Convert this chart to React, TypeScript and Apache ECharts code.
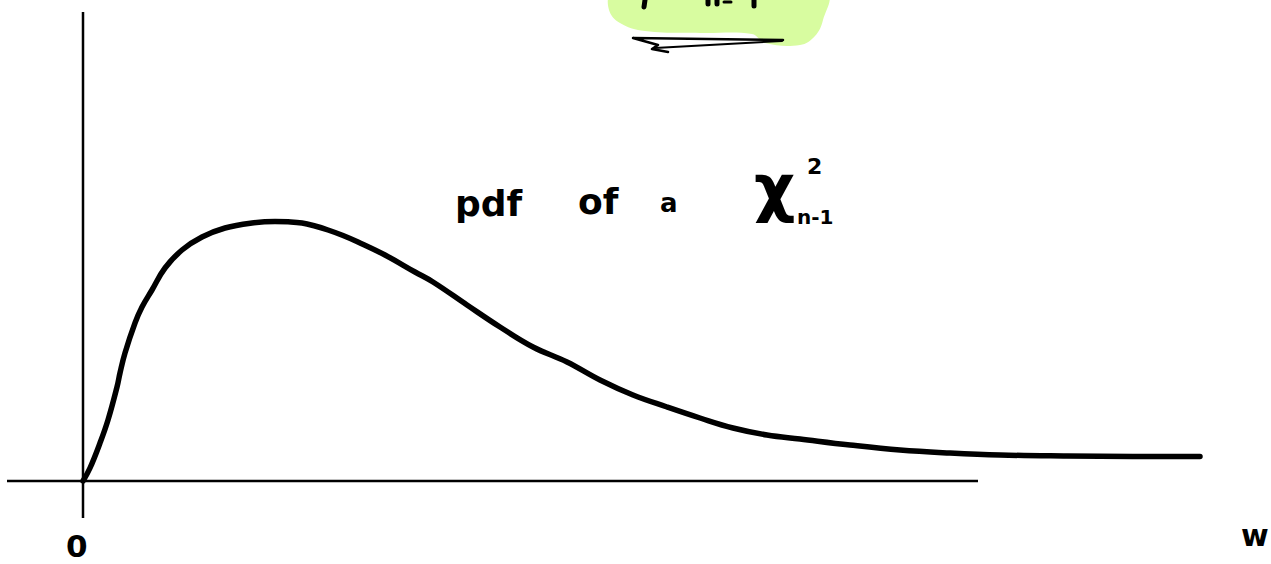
import React, { useEffect, useRef } from "react";
import * as echarts from "echarts";

// w values (horizontal position, arbitrary units) and pdf heights of the sketched chi-square curve
const curveW = [0, 0.07, 0.17, 0.25, 0.34, 0.37, 0.42, 0.52, 0.59, 0.69, 0.82, 0.99, 1.19, 1.42, 1.69, 1.92, 2.05, 2.19, 2.32, 2.45, 2.6, 2.75, 3.02, 3.32, 3.5, 3.84, 4.17, 4.5, 4.84, 5.17, 5.5, 5.84, 6.17, 6.5, 6.84, 7.17, 7.67, 8.17, 8.67, 9.17, 9.84, 10.5, 11.17];
const curvePdf = [0, 0.13, 0.38, 0.61, 0.94, 1.08, 1.28, 1.58, 1.74, 1.91, 2.13, 2.31, 2.44, 2.53, 2.58, 2.595, 2.592, 2.58, 2.55, 2.51, 2.455, 2.39, 2.26, 2.09, 1.99, 1.76, 1.54, 1.34, 1.19, 1.01, 0.86, 0.74, 0.63, 0.53, 0.46, 0.42, 0.36, 0.31, 0.28, 0.26, 0.25, 0.245, 0.245];

// hand-drawn axes extents
const horizAxisW = [-0.76, 8.95];
const vertAxisPdf = [-0.37, 4.69];

// labels
const originLabel = "0";
const axisLabel = "w";
const titleWords = ["pdf", "of", "a", "χ"];
const chiSup = "2";
const chiSub = "n-1";

const X_MIN = -0.83;
const X_MAX = 11.88;
const Y_MIN = -0.83;
const Y_MAX = 4.81;

export default function App() {
  const ref = useRef<HTMLDivElement>(null);
  useEffect(() => {
    if (!ref.current) return;
    const chart = echarts.init(ref.current, null, { renderer: "svg" });
    const font = "'DejaVu Sans', sans-serif";
    const txt = (text: string, x: number, y: number, size: number, extra: any = {}) => ({
      type: "text",
      x,
      y,
      z: 10,
      style: {
        text,
        fill: "#000",
        font: `bold ${size}px ${font}`,
        ...extra,
      },
    });
    chart.setOption({
      animation: false,
      backgroundColor: "#ffffff",
      grid: { left: 0, right: 0, top: 0, bottom: 0 },
      xAxis: { type: "value", min: X_MIN, max: X_MAX, show: false },
      yAxis: { type: "value", min: Y_MIN, max: Y_MAX, show: false },
      series: [
        {
          type: "line",
          data: horizAxisW.map((w) => [w, 0]),
          showSymbol: false,
          lineStyle: { color: "#000", width: 2.5 },
          z: 2,
        },
        {
          type: "line",
          data: vertAxisPdf.map((p) => [0, p]),
          showSymbol: false,
          lineStyle: { color: "#000", width: 2.5 },
          z: 2,
        },
        {
          type: "line",
          data: curveW.map((w, i) => [w, curvePdf[i]]),
          showSymbol: false,
          smooth: 0.4,
          lineStyle: { color: "#000", width: 5.5, cap: "round", join: "round" },
          z: 3,
        },
      ],
      graphic: [
        {
          type: "polygon",
          z: 1,
          shape: {
            points: [
              [612, -5], [609, 10], [620, 23], [645, 31], [700, 33], [752, 34], [765, 43], [800, 45], [815, 36], [823, 20], [826, -5],
            ],
            smooth: 0.4,
          },
          style: { fill: "#d8fca0" },
        },
        { type: "line", z: 5, shape: { x1: 645, y1: 0, x2: 644, y2: 7 }, style: { stroke: "#000", lineWidth: 5, lineCap: "round" } },
        { type: "line", z: 5, shape: { x1: 708, y1: 0, x2: 708, y2: 4 }, style: { stroke: "#000", lineWidth: 5, lineCap: "round" } },
        { type: "line", z: 5, shape: { x1: 717, y1: 0, x2: 717, y2: 4 }, style: { stroke: "#000", lineWidth: 5, lineCap: "round" } },
        { type: "line", z: 5, shape: { x1: 724, y1: 2, x2: 731, y2: 2 }, style: { stroke: "#000", lineWidth: 3, lineCap: "round" } },
        { type: "line", z: 5, shape: { x1: 754, y1: 0, x2: 754, y2: 6 }, style: { stroke: "#000", lineWidth: 5, lineCap: "round" } },
        {
          type: "polyline",
          z: 5,
          shape: { points: [[783, 40], [633, 38], [658, 45], [652, 49], [668, 52]] },
          style: { stroke: "#000", lineWidth: 2.5, fill: null, lineJoin: "round", lineCap: "round" },
        },
        {
          type: "polyline",
          z: 5,
          shape: { points: [[655, 48], [782, 41]] },
          style: { stroke: "#000", lineWidth: 2, fill: null, lineCap: "round" },
        },
        txt(titleWords[0], 455, 185, 36),
        txt(titleWords[1], 578, 183, 36),
        txt(titleWords[2], 660, 190, 26),
        txt(titleWords[3], 754, 156, 64),
        txt(chiSup, 807, 155, 22),
        txt(chiSub, 797, 207, 20),
        txt(originLabel, 66, 530, 31, { lineHeight: 31 }),
        txt(axisLabel, 1241, 520, 30),
      ],
    });
    return () => chart.dispose();
  }, []);
  return (
    <div
      ref={ref}
      style={{ position: "absolute", left: 0, top: 0, width: 1271, height: 564, background: "#fff" }}
    />
  );
}
